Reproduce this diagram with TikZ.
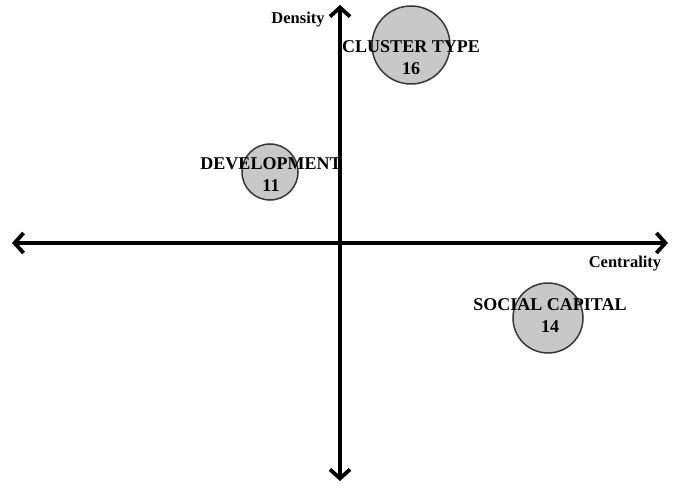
\documentclass[tikz,border=0pt]{standalone}
\usepackage{fontspec}
\setmainfont{Liberation Serif}
\usetikzlibrary{arrows.meta}
\definecolor{bubblefill}{RGB}{200,200,200}
\definecolor{bubbleedge}{RGB}{55,55,55}
\tikzset{
  axis/.style={line width=3.8pt, {Straight Barb[length=9pt,width=20pt,line width=3.8pt]}-{Straight Barb[length=9pt,width=20pt,line width=3.8pt]}},
  bubble/.style={circle, draw=bubbleedge, fill=bubblefill, line width=1.5pt, inner sep=0pt},
  clabel/.style={font=\fontsize{18}{22}\selectfont\bfseries, align=center, inner sep=0pt},
  axlabel/.style={font=\fontsize{16.5}{20}\selectfont\bfseries, inner sep=0pt}
}
\begin{document}
\begin{tikzpicture}[x=1pt,y=-1pt]
  \useasboundingbox (0,0) rectangle (677,489);
  % axis end points
  \coordinate (left) at (12,243);
  \coordinate (right) at (668,243);
  \coordinate (top) at (340,5);
  \coordinate (bottom) at (340,481);
  \draw[axis] (left) -- (right);
  \draw[axis] (top) -- (bottom);
  % axis labels
  \node[axlabel] (density) at (298,20) {Density};
  \node[axlabel] (centrality) at (625,264) {Centrality};
  % clusters
  \node[bubble, minimum size=78pt] (ct) at (411,45) {};
  \node[clabel] (ctl) at (411,58) {CLUSTER TYPE\\16};
  \node[bubble, minimum size=56pt] (dev) at (270,172) {};
  \node[clabel] (devl) at (271,175) {DEVELOPMENT\\11};
  \node[bubble, minimum size=70pt] (sc) at (548,318) {};
  \node[clabel] (scl) at (550,316) {SOCIAL CAPITAL\\14};
\end{tikzpicture}
\end{document}
